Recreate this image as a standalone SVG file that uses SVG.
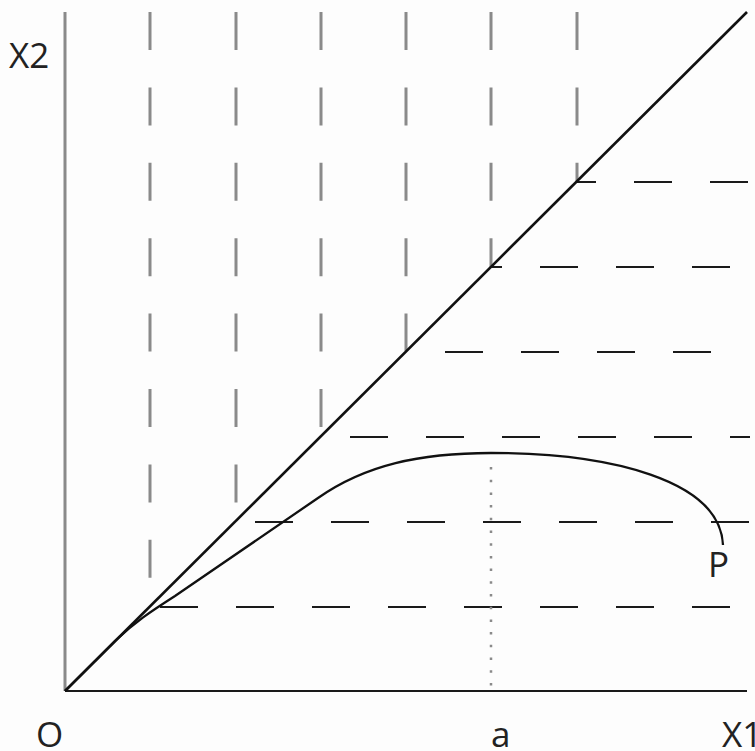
<svg xmlns="http://www.w3.org/2000/svg" width="755" height="751" viewBox="0 0 755 751">
<style>
.vax{stroke:#8a8a8a;stroke-width:3;fill:none}
.hax{stroke:#1a1a1a;stroke-width:2.2;fill:none}
.diag{stroke:#111;stroke-width:2.6;fill:none}
.vd{stroke:#8a8a8a;stroke-width:3;stroke-dasharray:38 37.4;fill:none}
.hd{stroke:#1a1a1a;stroke-width:2;stroke-dasharray:38 38;fill:none}
.dot{stroke:#8a8a8a;stroke-width:2.5;stroke-dasharray:2.5 10.2;fill:none}
.curve{stroke:#111;stroke-width:2.3;fill:none}
text{font-family:"Open Sans","Liberation Sans",sans-serif;font-size:35px;fill:#222}
</style>
<rect width="755" height="751" fill="#fdfdfd"/>
<g id="grid">
<line class="vd" x1="150" y1="12" x2="150" y2="606"/>
<line class="vd" x1="236" y1="12" x2="236" y2="521"/>
<line class="vd" x1="321" y1="12" x2="321" y2="436"/>
<line class="vd" x1="406" y1="12" x2="406" y2="351"/>
<line class="vd" x1="491" y1="12" x2="491" y2="267"/>
<line class="vd" x1="577" y1="12" x2="577" y2="182"/>
<line class="hd" x1="160" y1="607" x2="750" y2="607"/>
<line class="hd" x1="255" y1="522" x2="750" y2="522"/>
<line class="hd" x1="350" y1="437" x2="750" y2="437"/>
<line class="hd" x1="445" y1="352" x2="748" y2="352"/>
<line class="hd" x1="491" y1="267" x2="750" y2="267" stroke-dashoffset="27"/>
<line class="hd" x1="577" y1="182" x2="750" y2="182" stroke-dashoffset="19"/>
</g>
<g id="axes">
<line class="vax" x1="65" y1="12" x2="65" y2="691"/>
<line class="hax" x1="65" y1="691" x2="747" y2="691"/>
<line class="diag" x1="65" y1="691" x2="747" y2="12"/>
</g>
<g id="dotted">
<line class="dot" x1="491" y1="467" x2="491" y2="686"/>
</g>
<g id="curveP">
<path class="curve" d="M65,691 L115,641 C135,622 150,612 175,596 L318,498 C365,465 420,453 491,453 C610,453 720,480 723,545"/>
</g>
<g id="labels">
<text x="9" y="68">X2</text>
<text x="36" y="747">O</text>
<text x="491" y="747">a</text>
<text x="722" y="747">X1</text>
<text x="708" y="577">P</text>
</g>
</svg>
